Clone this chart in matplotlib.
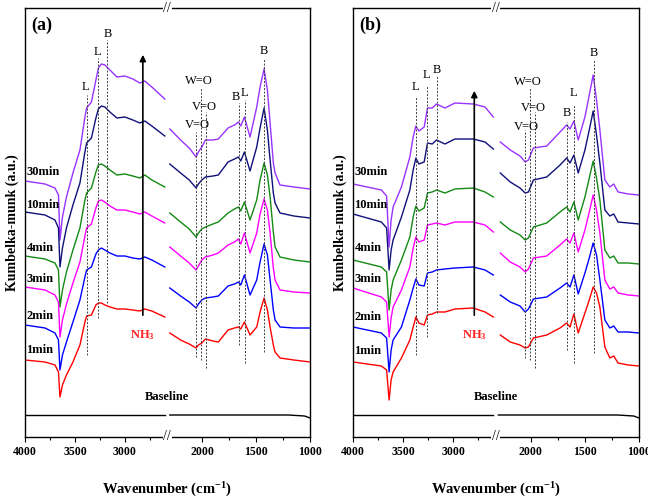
import numpy as np
import matplotlib
matplotlib.use("Agg")
from matplotlib import pyplot as plt

plt.rcParams['font.family'] = ['Liberation Serif', 'DejaVu Serif']
plt.rcParams['mathtext.fontset'] = 'custom'
plt.rcParams['mathtext.rm'] = 'Liberation Serif:bold'
plt.rcParams['mathtext.default'] = 'rm'

times = ['30min', '10min', '4min', '3min', '2min', '1min']
colors = ['#9933ff', '#10107a', '#138a13', '#ff00ff', '#0000ff', '#ff0000']

# panel (a), high wavenumber part
wn_al = [4000, 3800, 3700, 3665, 3650, 3625, 3585, 3520, 3450, 3400, 3383, 3335,
         3290, 3265, 3235, 3200, 3150, 3080, 3000, 2920, 2850, 2800, 2730, 2600]
a_left = [
    [256, 253, 249, 242, 197, 220, 240, 264, 287, 320, 329, 335, 357, 369, 373, 372, 367, 360, 361, 358, 354, 356, 350, 338],
    [225, 222, 217, 209, 170, 189, 209, 232, 254, 285, 294, 299, 319, 328, 331, 330, 325, 319, 320, 317, 314, 316, 311, 301],
    [181, 178, 174, 167, 130, 147, 165, 187, 209, 237, 244, 249, 265, 272, 273, 271, 267, 262, 263, 261, 259, 262, 257, 250],
    [150, 147, 142, 135, 100, 117, 133, 154, 175, 201, 209, 213, 229, 236, 237, 235, 231, 227, 227, 225, 223, 225, 221, 214],
    [112, 109, 104, 97, 67, 82, 95, 115, 137, 160, 167, 170, 183, 187, 189, 187, 184, 181, 181, 179, 178, 180, 177, 170],
    [77, 75, 72, 65, 40, 52, 62, 75, 92, 115, 121, 122, 132, 134, 134, 132, 130, 128, 128, 127, 126, 128, 126, 120],
]
# panel (a), low wavenumber part
wn_ar = [2300, 2200, 2120, 2056, 2035, 2003, 1970, 1900, 1850, 1760, 1700, 1664, 1642,
         1608, 1556, 1494, 1463, 1426, 1395, 1370, 1340, 1324, 1278, 1150, 1000]
a_right = [
    [308, 297, 289, 280, 285, 290, 297, 297, 298, 309, 312, 315, 311, 320, 300, 330, 350, 368, 347, 314, 274, 264, 252, 250, 248],
    [273, 264, 257, 249, 253, 257, 260, 261, 262, 275, 278, 280, 276, 285, 266, 290, 309, 329, 307, 277, 244, 234, 224, 221, 219],
    [224, 215, 208, 200, 204, 208, 210, 213, 215, 224, 228, 230, 226, 235, 217, 237, 257, 274, 262, 240, 205, 190, 180, 177, 175],
    [190, 181, 174, 167, 171, 177, 180, 182, 184, 192, 195, 198, 193, 204, 184, 204, 223, 238, 227, 204, 169, 157, 147, 145, 144],
    [149, 141, 135, 129, 133, 137, 139, 140, 141, 151, 153, 155, 152, 162, 142, 157, 175, 193, 182, 157, 127, 117, 110, 109, 109],
    [104, 97, 93, 89, 92, 94, 98, 96, 95, 107, 109, 110, 108, 115, 102, 110, 125, 139, 127, 110, 92, 85, 79, 77, 75],
]
# panel (b), high wavenumber part
wn_bl = [4000, 3717, 3665, 3640, 3620, 3600, 3517, 3433, 3400, 3373, 3343, 3290,
         3257, 3210, 3167, 3083, 2983, 2800, 2683, 2600]
b_left = [
    [253, 247, 241, 190, 217, 230, 250, 280, 300, 311, 306, 310, 329, 329, 333, 329, 334, 333, 330, 320],
    [223, 215, 209, 167, 187, 197, 220, 247, 267, 279, 273, 275, 294, 293, 297, 293, 298, 298, 295, 288],
    [177, 170, 165, 127, 147, 157, 177, 200, 220, 231, 226, 229, 244, 245, 247, 244, 248, 249, 245, 240],
    [149, 140, 135, 100, 119, 130, 147, 170, 189, 200, 195, 197, 212, 213, 214, 212, 215, 215, 212, 205],
    [110, 104, 99, 65, 87, 97, 110, 137, 149, 158, 152, 151, 164, 165, 167, 168, 169, 170, 167, 162],
    [75, 71, 67, 37, 57, 65, 79, 97, 110, 120, 114, 112, 122, 123, 125, 125, 128, 129, 125, 120],
]
# panel (b), low wavenumber part
wn_br = [2282, 2190, 2100, 2052, 2022, 1976, 1853, 1730, 1669, 1638, 1602, 1562,
         1500, 1460, 1424, 1393, 1362, 1316, 1270, 1234, 1194, 1100, 1000]
b_right = [
    [295, 287, 281, 275, 277, 289, 291, 305, 312, 308, 316, 297, 320, 342, 362, 337, 307, 257, 250, 253, 245, 243, 242],
    [264, 255, 249, 244, 245, 257, 260, 272, 279, 274, 282, 264, 287, 307, 326, 302, 274, 227, 221, 223, 215, 214, 213],
    [215, 207, 202, 197, 199, 210, 214, 225, 230, 225, 235, 217, 240, 259, 276, 259, 237, 187, 179, 181, 174, 174, 173],
    [184, 175, 170, 165, 168, 179, 181, 192, 198, 194, 204, 185, 207, 225, 242, 227, 204, 157, 148, 150, 144, 142, 141],
    [142, 135, 131, 125, 128, 138, 140, 149, 154, 150, 162, 143, 164, 179, 194, 182, 157, 117, 109, 111, 105, 105, 104],
    [102, 95, 92, 89, 90, 99, 102, 109, 114, 110, 123, 104, 124, 137, 150, 144, 130, 90, 79, 81, 74, 72, 71],
]

base_wn_l = [4000, 3300, 2600]
base_l = [22, 22, 22]
base_wn_r = [2300, 1600, 1200, 1050, 1000]
base_r = [22, 22, 22, 21, 19]

# dashed marker lines: position, bottom, top
a_marks = [3383, 3267, 3177, 2056, 2012, 1963, 1660, 1605, 1423]
a_lo = [82, 119, 134, 80, 77, 69, 92, 74, 85]
a_hi = [342, 379, 397, 305, 349, 325, 334, 337, 379]
b_marks = [3373, 3257, 3167, 2052, 2004, 1958, 1663, 1599, 1420]
b_lo = [82, 100, 124, 79, 77, 69, 87, 74, 84]
b_hi = [340, 352, 362, 307, 349, 325, 315, 332, 377]

mark_text = ['L', 'L', 'B', 'W=O', 'V=O', 'V=O', 'B', 'L', 'B']
a_tx = [3390, 3270, 3170, 2028, 1975, 2049, 1690, 1611, 1424]
a_ty = [350, 385, 403, 356, 330, 312, 340, 344, 386]
b_tx = [3380, 3270, 3160, 2025, 1979, 2037, 1666, 1602, 1418]
b_ty = [350, 362, 367, 355, 329, 310, 324, 344, 384]

a_time_y = [265, 232, 189, 158, 121, 87]
b_time_y = [265, 232, 189, 158, 120, 86]
arrow_a = (2820, 119, 385)
arrow_b = (2790, 119, 349)


def fwd(x):
    x = np.asarray(x, dtype=float)
    return np.where(x >= 2600, x, np.where(x >= 2300, 2600 - (2600 - x) / 6.0,
                                           2550 - (2300 - x) * 1.08))


def inv(u):
    u = np.asarray(u, dtype=float)
    return np.where(u >= 2600, u, np.where(u >= 2550, 2600 - (2600 - u) * 6.0,
                                           2300 - (2550 - u) / 1.08))


fig = plt.figure(figsize=(6.48, 5.0), dpi=100)
ax1 = fig.add_axes([0.0386, 0.126, 0.4398, 0.858])
ax2 = fig.add_axes([0.5448, 0.126, 0.4414, 0.858])

panels = [
    (ax1, '(a)', wn_al, a_left, wn_ar, a_right, a_marks, a_lo, a_hi, a_tx, a_ty, a_time_y, arrow_a),
    (ax2, '(b)', wn_bl, b_left, wn_br, b_right, b_marks, b_lo, b_hi, b_tx, b_ty, b_time_y, arrow_b),
]

for ax, tag, wl, yl, wr, yr, mk, lo, hi, tx, ty, tyy, arr in panels:
    ax.set_xscale('function', functions=(fwd, inv))
    for i in range(len(times)):
        ax.plot(wl, yl[i], color=colors[i], lw=1.0)
        ax.plot(wr, yr[i], color=colors[i], lw=1.0)
        ax.text(3985, tyy[i], times[i], fontsize=9, fontweight='bold', ha='left', va='center')
    ax.plot(base_wn_l, base_l, color='k', lw=1.0)
    ax.plot(base_wn_r, base_r, color='k', lw=1.0)
    ax.text(2450, 40, 'Baseline', fontsize=9, fontweight='bold', ha='center', va='center')
    for j in range(len(mk)):
        ax.plot([mk[j], mk[j]], [lo[j], hi[j]], color='0.25', lw=0.7, ls=(0, (2, 1.6)))
        ax.text(tx[j], ty[j], mark_text[j], fontsize=9, ha='center', va='center')
    ax.annotate('', xy=(arr[0], arr[2]), xytext=(arr[0], arr[1]),
                arrowprops=dict(arrowstyle='-|>', color='k', lw=1.2, mutation_scale=9))
    ax.text(arr[0], 102, 'NH$_3$', color='#ff2020', fontsize=9, fontweight='bold',
            ha='center', va='center')
    ax.text(3830, 412, tag, fontsize=13, fontweight='bold', ha='center', va='center')
    # axis break marks
    for yy in (0, 1):
        ax.text(2450, yy, '//', transform=ax.get_xaxis_transform(), fontsize=10,
                ha='center', va='center', clip_on=False,
                bbox=dict(boxstyle='square,pad=0.05', fc='white', ec='none'))

    ax.set_xlim(4000, 1000)
    ax.set_ylim(0, 429)
    ax.set_xticks([4000, 3500, 3000, 2000, 1500, 1000])
    ax.set_xticks([3750, 3250, 2750, 1750, 1250], minor=True)
    ax.set_xticklabels(['4000', '3500', '3000', '2000', '1500', '1000'],
                       fontsize=8.5, fontweight='bold')
    ax.tick_params(axis='x', which='major', direction='out', length=3.3, width=0.8)
    ax.tick_params(axis='x', which='minor', direction='out', length=2.0, width=0.8)
    ax.set_yticks([])
    for s in ax.spines.values():
        s.set_linewidth(1.0)
    ax.set_xlabel('Wavenumber (cm$^{-1}$)', fontsize=10.5, fontweight='bold', labelpad=16)
    ax.set_ylabel('Kumbelka-munk (a.u.)', fontsize=10, fontweight='bold', labelpad=4)

fig.savefig('out.png', dpi=100)
